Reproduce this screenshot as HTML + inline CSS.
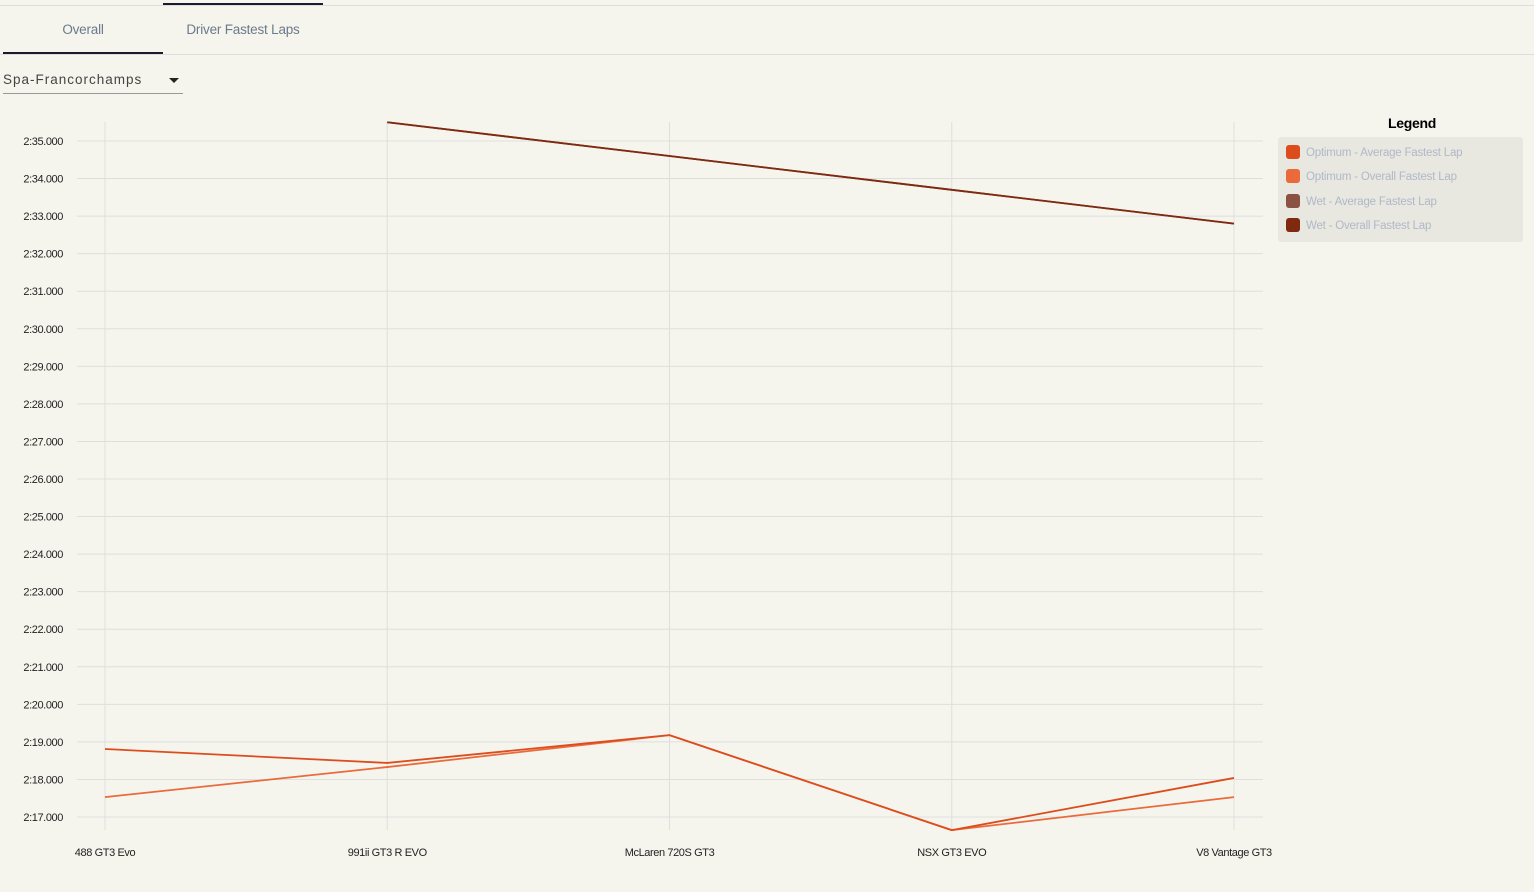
<!DOCTYPE html>
<html><head><meta charset="utf-8"><style>
body{margin:0;width:1534px;height:892px;background:#f5f5ee;font-family:"Liberation Sans",sans-serif;overflow:hidden;position:relative}
.topline{position:absolute;left:0;top:5px;width:1534px;height:1px;background:#ddd}
.tabbar{position:absolute;left:0;top:54px;width:1534px;height:1px;background:#ddd}
.tab{position:absolute;top:22px;font-size:13.5px;color:#6b7a8c;text-align:center;width:160px;letter-spacing:-0.2px}
.ul{position:absolute;height:2px;background:#1a1a2e}
.sel{position:absolute;left:3px;top:72px;width:180px;height:21px;border-bottom:1px solid #999;font-size:13.5px;color:#444;letter-spacing:1px}
.arrow{position:absolute;left:169px;top:78px;width:0;height:0;border-left:5px solid transparent;border-right:5px solid transparent;border-top:5px solid #222}
.legend-title{position:absolute;left:1388px;top:115px;font-size:14px;font-weight:bold;color:#000;letter-spacing:-0.3px}
.legend-box{position:absolute;left:1278px;top:137px;width:245px;height:105px;background:#e8e8e0;border-radius:3px}
.le{position:absolute;left:1286px;font-size:11.5px;color:#b0b8c8;letter-spacing:-0.2px}
.le span{display:inline-block;width:14px;height:14px;border-radius:3px;vertical-align:-3px;margin-right:6px}
</style></head><body>
<div class="topline"></div>
<div class="ul" style="left:163px;top:3px;width:160px"></div>
<div class="tab" style="left:3px">Overall</div>
<div class="tab" style="left:163px">Driver Fastest Laps</div>
<div class="tabbar"></div>
<div class="ul" style="left:3px;top:52px;width:160px"></div>
<div class="sel">Spa-Francorchamps</div>
<div class="arrow"></div>
<div class="legend-title">Legend</div>
<div class="legend-box"></div>
<div class="le" style="top:145px"><span style="background:#dd4c1c"></span>Optimum - Average Fastest Lap</div>
<div class="le" style="top:169px"><span style="background:#ea6a3c"></span>Optimum - Overall Fastest Lap</div>
<div class="le" style="top:194px"><span style="background:#8b5142"></span>Wet - Average Fastest Lap</div>
<div class="le" style="top:218px"><span style="background:#7f2a10"></span>Wet - Overall Fastest Lap</div>
<svg id="chart" width="1534" height="892" style="position:absolute;left:0;top:0"></svg>
<script>
const categories=["488 GT3 Evo","991ii GT3 R EVO","McLaren 720S GT3","NSX GT3 EVO","V8 Vantage GT3"];
const optAvg=[138.81,138.44,139.18,136.65,138.04];
const optOverall=[137.53,138.33,139.18,136.65,137.53];
const wetAvg=[null,155.5,154.6,153.7,152.8];
const wetOverall=[null,155.5,154.6,153.7,152.8];
const yTicks=[137,138,139,140,141,142,143,144,145,146,147,148,149,150,151,152,153,154,155];
const svg=document.getElementById('chart');
const NS='http://www.w3.org/2000/svg';
function x(i){return 105+i*282.25;}
function y(v){return 817-(v-137)*(676/18);}
function fmt(v){const m=Math.floor(v/60),s=v-m*60;return m+':'+String(s).padStart(2,'0')+'.000';}
function mk(t,a){const e=document.createElementNS(NS,t);for(const k in a)e.setAttribute(k,a[k]);svg.appendChild(e);return e;}
yTicks.forEach(v=>{
 const l=mk('line',{x1:77,x2:1263,y1:y(v),y2:y(v),stroke:'#dedede','stroke-width':1});
 
 
 const t=mk('text',{x:63,y:y(v)+4,'text-anchor':'end','font-size':11,fill:'#222','letter-spacing':'-0.4'});
 t.textContent=fmt(v);
 
 
});
categories.forEach((c,i)=>{
 const l=mk('line',{x1:x(i),x2:x(i),y1:122,y2:830,stroke:'#dedede','stroke-width':1});
 
 
 const t=mk('text',{x:x(i),y:856,'text-anchor':'middle','font-size':11,fill:'#222','letter-spacing':'-0.4'});
 t.textContent=c;
 
 
});
function series(data,color,name){
 const pts=[];data.forEach((v,i)=>{if(v!==null)pts.push(x(i)+','+y(v));});
 const p=mk('polyline',{points:pts.join(' '),fill:'none',stroke:color,'stroke-width':1.8});
 
 
}
series(wetAvg,'#8b5142','series-wet-average');
series(wetOverall,'#7f2a10','series-wet-overall');
series(optOverall,'#ea6a3c','series-optimum-overall');
series(optAvg,'#dd4c1c','series-optimum-average');
</script>
</body></html>
